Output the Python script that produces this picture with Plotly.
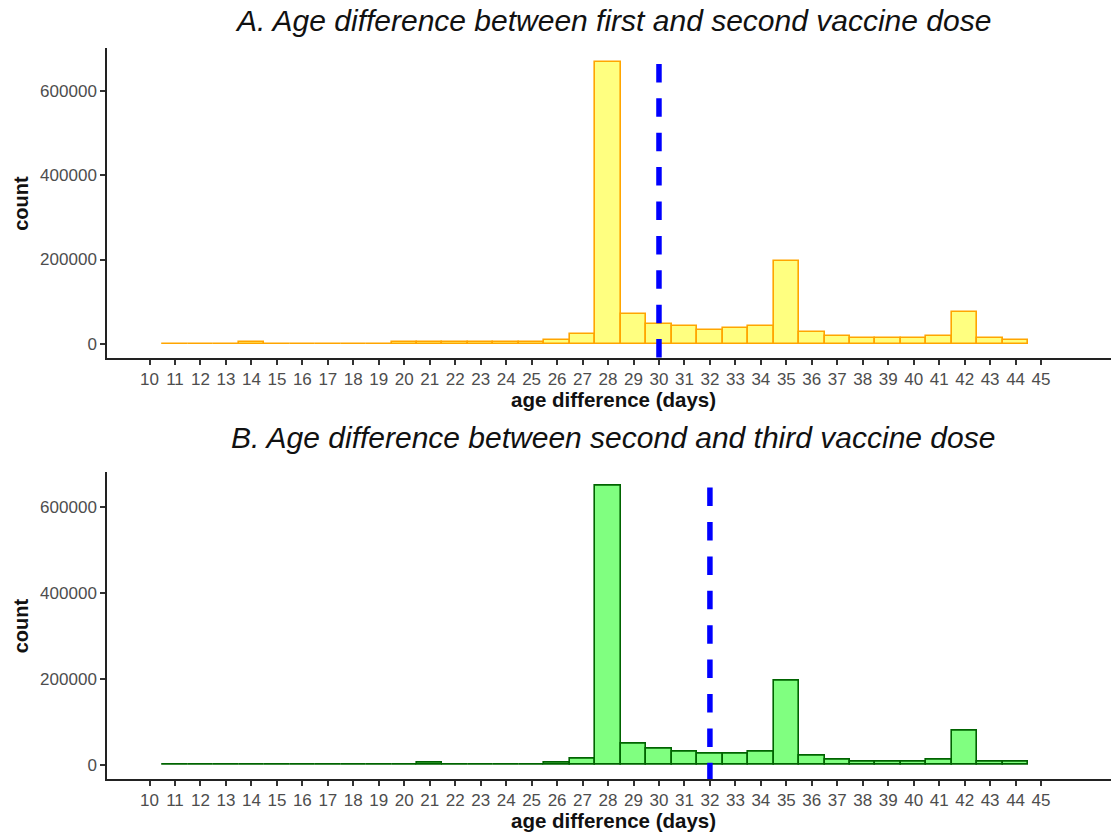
import plotly.graph_objects as go

days = list(range(11, 45))
counts_dose12 = [400, 400, 400, 5000, 400, 400, 400, 400, 400,
                 5000, 5000, 5000, 5000, 5000, 5000, 10000, 23800,
                 668000, 71400, 47600, 42900, 33300, 38100, 42900,
                 196700, 28600, 19000, 14300, 13500, 14300, 19000,
                 76200, 14300, 9500]
counts_dose23 = [300, 300, 300, 300, 300, 300, 300, 300, 300, 300,
                 5400, 300, 300, 300, 300, 6000, 14000,
                 648800, 50200, 37200, 31600, 26300, 26300, 31600,
                 196000, 22300, 13000, 8400, 7500, 7500, 13000,
                 79000, 8400, 8400]
mean_dose12 = 30
mean_dose23 = 32
x_tick_vals = list(range(10, 46))
y_tick_vals = [0, 200000, 400000, 600000]
title_a = "A. Age difference between first and second vaccine dose"
title_b = "B. Age difference between second and third vaccine dose"
x_title = "age difference (days)"
y_title = "count"

OFF = 8                      # page body margin offset
W, H = 1119 - OFF, 836 - OFF
L = 107 - OFF
FONT = "Liberation Sans, Arial, sans-serif"

def py(px):
    return 1 - (px - OFF) / H

def pxx(px):
    return (px - OFF - L) / (W - L)

fig = go.Figure()
fig.add_trace(go.Bar(x=days, y=counts_dose12, width=1,
                     marker=dict(color="#FFFF80", line=dict(color="#FFA500", width=1.6)),
                     xaxis="x", yaxis="y", showlegend=False))
fig.add_trace(go.Bar(x=days, y=counts_dose23, width=1,
                     marker=dict(color="#80FF80", line=dict(color="#006400", width=1.6)),
                     xaxis="x2", yaxis="y2", showlegend=False))

xcommon = dict(range=[8.33, 48.06], tickvals=x_tick_vals, ticks="outside", ticklen=5,
               tickwidth=1.5, tickcolor="#333333", showline=True, linecolor="#222222",
               linewidth=1.5, showgrid=False, zeroline=False, automargin=False,
               tickfont=dict(family=FONT, size=17, color="#4D4D4D"))
ycommon = dict(tickvals=y_tick_vals, tickformat="d", ticks="outside", ticklen=5,
               tickwidth=1.5, tickcolor="#333333", showline=True, linecolor="#222222",
               linewidth=1.5, showgrid=False, zeroline=False, automargin=False,
               tickfont=dict(family=FONT, size=17, color="#4D4D4D"))

fig.update_layout(
    template="none",
    width=W, height=H,
    margin=dict(l=L, r=0, t=0, b=0, pad=0),
    paper_bgcolor="white", plot_bgcolor="white",
    bargap=0,
    xaxis=dict(domain=[0, 1], anchor="y", **xcommon),
    yaxis=dict(domain=[py(358), py(48)], anchor="x", range=[-33400, 701400], **ycommon),
    xaxis2=dict(domain=[0, 1], anchor="y2", **xcommon),
    yaxis2=dict(domain=[py(779), py(471.7)], anchor="x2", range=[-32440, 681240], **ycommon),
)

for xv, xr, yr in [(mean_dose12, "x", "y domain"), (mean_dose23, "x2", "y2 domain")]:
    fig.add_shape(type="line", x0=xv, x1=xv, y0=1, y1=0, xref=xr, yref=yr,
                  line=dict(color="#0000FF", width=5.5, dash="0px,15.9px,18.5px,0px"),
                  layer="above")

ann = []
ann.append(dict(text="<i>" + title_a + "</i>", x=0.5, y=py(20.5), xref="paper", yref="paper",
                showarrow=False, xanchor="center", yanchor="middle",
                font=dict(family=FONT, size=30, color="#111111")))
ann.append(dict(text="<i>" + title_b + "</i>", x=0.5, y=py(437.5), xref="paper", yref="paper",
                showarrow=False, xanchor="center", yanchor="middle",
                font=dict(family=FONT, size=30, color="#111111")))
for yc in [399.5, 820.5]:
    ann.append(dict(text="<b>" + x_title + "</b>", x=0.5, y=py(yc), xref="paper", yref="paper",
                    showarrow=False, xanchor="center", yanchor="middle",
                    font=dict(family=FONT, size=20.5, color="#111111")))
for yc in [203, 625.5]:
    ann.append(dict(text="<b>" + y_title + "</b>", x=pxx(20.8), y=py(yc), xref="paper", yref="paper",
                    showarrow=False, xanchor="center", yanchor="middle", textangle=-90,
                    font=dict(family=FONT, size=20, color="#111111")))
fig.update_layout(annotations=ann)

fig.write_html("out.html")
